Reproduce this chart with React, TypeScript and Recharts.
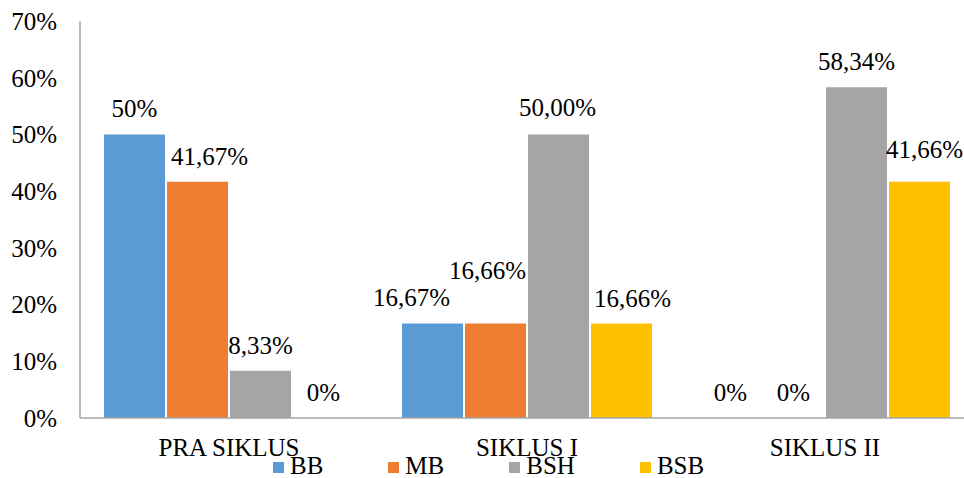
import React from 'react';
import { BarChart, Bar, XAxis, YAxis, LabelList, Cell } from 'recharts';

// ---- data ----
const categories = ['PRA SIKLUS', 'SIKLUS I', 'SIKLUS II'];
const seriesNames = ['BB', 'MB', 'BSH', 'BSB'];
const bbValues = [50, 16.67, 0];
const mbValues = [41.67, 16.66, 0];
const bshValues = [8.33, 50, 58.34];
const bsbValues = [0, 16.66, 41.66];
const bbLabels = ['50%', '16,67%', '0%'];
const mbLabels = ['41,67%', '16,66%', '0%'];
const bshLabels = ['8,33%', '50,00%', '58,34%'];
const bsbLabels = ['0%', '16,66%', '41,66%'];
const yTicks = [0, 10, 20, 30, 40, 50, 60, 70];

// ---- styles ----
const FONT = "'Liberation Serif', 'Times New Roman', serif";
const FS = 25;
const colors: Record<string, string> = {
  BB: '#5B9BD5',
  MB: '#ED7D31',
  BSH: '#A5A5A5',
  BSB: '#FFC000',
};
const AXIS_COLOR = '#A6A6A6';
// label nudges (dx, dy) in px, mimicking the original's overlap avoidance
const labelNudge: Record<string, number[][]> = {
  BB: [[0, 0], [-21, 0], [0, 0]],
  MB: [[12, 0], [-8, -28], [0, 0]],
  BSH: [[0, 0], [-1, -1], [0, 0]],
  BSB: [[0, 0], [11, 0], [5, -7]],
};

const labelTexts: Record<string, string[]> = {
  BB: bbLabels,
  MB: mbLabels,
  BSH: bshLabels,
  BSB: bsbLabels,
};
const seriesValues: Record<string, number[]> = {
  BB: bbValues,
  MB: mbValues,
  BSH: bshValues,
  BSB: bsbValues,
};

const data = categories.map((c, i) => {
  const row: Record<string, any> = { name: c };
  seriesNames.forEach((s) => {
    row[s] = seriesValues[s][i];
  });
  return row;
});

const makeLabel = (series: string) => (props: any) => {
  const { x, y, width, index, value } = props;
  const v = Array.isArray(value) ? value[1] - value[0] : Number(value);
  let i = seriesValues[series].indexOf(v);
  if (i < 0) i = typeof index === 'number' ? index : 0;
  const [dx, dy] = labelNudge[series][i] || [0, 0];
  const cx = Number(x) + Number(width) / 2 + dx;
  const top = Math.min(Number(y), Number(y) + Number(props.height || 0));
  const by = (v === 0 ? Number(y) + Number(props.height || 0) : top) - 17 + dy;
  return (
    <text
      key={`${series}-${i}`}
      x={cx}
      y={by}
      textAnchor="middle"
      fontFamily={FONT}
      fontSize={FS}
      fill="#000"
    >
      {labelTexts[series][i]}
    </text>
  );
};

export default function App() {
  return (
    <div
      style={{
        position: 'absolute',
        left: 0,
        top: 0,
        width: 964,
        height: 478,
        overflow: 'hidden',
        background: '#fff',
      }}
    >
      <BarChart
        width={974}
        height={478}
        data={data}
        margin={{ top: 21, right: 0, bottom: 0, left: 0 }}
        barCategoryGap={24}
        barGap={2}
      >
        <XAxis
          dataKey="name"
          height={60}
          axisLine={{ stroke: AXIS_COLOR, strokeWidth: 1.5 }}
          tickLine={false}
          tickSize={0}
          tickMargin={20}
          interval={0}
          tick={{ fill: '#000', fontSize: FS, fontFamily: FONT }}
        />
        <YAxis
          width={80}
          domain={[0, 70]}
          ticks={yTicks}
          interval={0}
          tickFormatter={(v: number) => `${v}%`}
          axisLine={{ stroke: AXIS_COLOR, strokeWidth: 1.5 }}
          tickLine={false}
          tickSize={0}
          tickMargin={23}
          tick={{ fill: '#000', fontSize: FS, fontFamily: FONT }}
        />
        {seriesNames.map((s) => (
          <Bar
            key={s}
            dataKey={s}
            fill={colors[s]}
            minPointSize={1}
            isAnimationActive={false}
          >
            {seriesValues[s].map((v, i) => (
              <Cell key={i} fill={v === 0 ? 'transparent' : colors[s]} />
            ))}
            <LabelList dataKey={s} content={makeLabel(s)} />
          </Bar>
        ))}
      </BarChart>
      <div
        style={{
          position: 'absolute',
          left: 273,
          top: 454,
          display: 'flex',
          fontFamily: FONT,
          fontSize: FS,
          lineHeight: '24px',
          color: '#000',
          whiteSpace: 'nowrap',
        }}
      >
        {seriesNames.map((s) => (
          <div key={s} style={{ position: 'relative', paddingLeft: 17, marginRight: 65 }}>
            <span
              style={{
                position: 'absolute',
                left: 0,
                top: 8,
                width: 11,
                height: 11,
                background: colors[s],
              }}
            />
            <span>{s}</span>
          </div>
        ))}
      </div>
    </div>
  );
}
